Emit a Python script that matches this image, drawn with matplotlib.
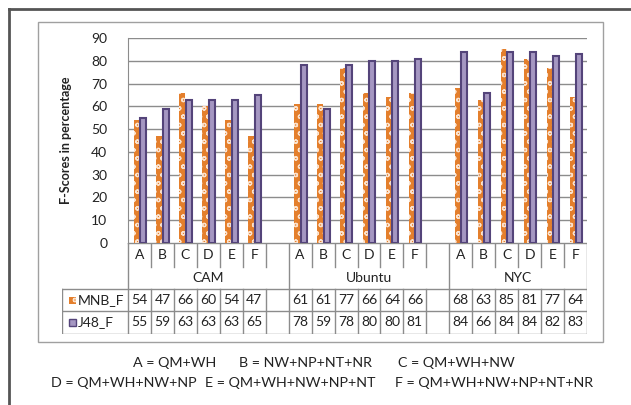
import matplotlib.pyplot as plt
from matplotlib.patches import Rectangle
from matplotlib.lines import Line2D
import numpy as np

plt.rcParams['font.family'] = ['Lato', 'DejaVu Sans']
plt.rcParams['hatch.linewidth'] = 0.9

groups = ['CAM', 'Ubuntu', 'NYC']
letters = ['A', 'B', 'C', 'D', 'E', 'F']
mnb_f = [54, 47, 66, 60, 54, 47, 61, 61, 77, 66, 64, 66, 68, 63, 85, 81, 77, 64]
j48_f = [55, 59, 63, 63, 63, 65, 78, 59, 78, 80, 80, 81, 84, 66, 84, 84, 82, 83]
legend_lines = [
    [('A = QM+WH', 133), ('B = NW+NP+NT+NR', 239), ('C = QM+WH+NW', 398)],
    [('D = QM+WH+NW+NP', 51), ('E = QM+WH+NW+NP+NT', 205), ('F = QM+WH+NW+NP+NT+NR', 395)],
]

W, H = 631, 405
ORANGE = '#E47F2C'
PURPLE = '#A597C2'
PURPLE_EDGE = '#54447A'
GRID = '#8C8C8C'
TXT = '#222222'


def fx(x):
    return x / W


def fy(y):
    return 1 - y / H


fig = plt.figure(figsize=(W / 100, H / 100), dpi=100)

# outer frame lines
fig.add_artist(Line2D([fx(9), 1], [fy(9), fy(9)], color='#555555', lw=2))
fig.add_artist(Line2D([fx(9), fx(9)], [fy(9), 0], color='#555555', lw=2))
fig.add_artist(Rectangle((fx(38), fy(342)), fx(603) - fx(38), fy(22) - fy(342),
                         fill=False, ec='#A0A0A0', lw=1))

# slot positions (7 per group, last group has no spacer slot)
slots = np.array([g * 7 + i for g in range(3) for i in range(6)])
xmin, xmax = -0.5, 19.5
PL, PR, PT, PB = 128, 587, 38, 243
slot_px = (PR - PL) / (xmax - xmin)

ax = fig.add_axes([fx(PL), fy(PB), fx(PR) - fx(PL), fy(PT) - fy(PB)])
ax.bar(slots - 0.13, mnb_f, width=0.26, color=ORANGE, edgecolor='#FBE3CF',
       hatch='oo', linewidth=0, zorder=3)
ax.bar(slots + 0.15, j48_f, width=0.26, color=PURPLE, edgecolor=PURPLE_EDGE,
       linewidth=1.5, zorder=3)
ax.set_xlim(xmin, xmax)
ax.set_ylim(0, 90)
ax.set_yticks(range(0, 91, 10))
ax.set_xticks([])
ax.yaxis.grid(True, color=GRID, lw=1)
ax.set_axisbelow(True)
ax.tick_params(axis='y', length=0, pad=15, labelsize=10, labelcolor=TXT)
for s in ['right', 'bottom', 'top']:
    ax.spines[s].set_visible(False)
ax.spines['left'].set_color(GRID)
ax.set_ylabel('F-Scores in percentage', fontweight='bold', fontsize=9,
              color=TXT, labelpad=14)

# data table below the plot
TL, TB = 62, 334
tx_left = xmin - (PL - TL) / slot_px
tax = fig.add_axes([fx(TL), fy(TB), fx(PR) - fx(TL), fy(PB) - fy(TB)])
tax.set_xlim(tx_left, xmax)
tax.set_ylim(TB, PB)
tax.axis('off')

lk = dict(color=GRID, lw=1)
row1, row2, row3 = 267, 289, 311
tax.plot([xmin, xmax], [PB, PB], **lk)
for y in [row2, row3, TB]:
    tax.plot([tx_left, xmax], [y, y], **lk)
tax.plot([tx_left, tx_left], [row2, TB], **lk)
for b in np.arange(xmin, xmax + 0.01, 1):
    if b in (-0.5, 6.5, 13.5, 19.5):
        tax.plot([b, b], [PB, TB], **lk)
    else:
        tax.plot([b, b], [PB, row1], **lk)
        tax.plot([b, b], [row2, TB], **lk)

for i, s in enumerate(slots):
    tax.text(s, 255, letters[i % 6], ha='center', va='center', fontsize=10, color=TXT)
    tax.text(s, 300, str(mnb_f[i]), ha='center', va='center', fontsize=10, color=TXT)
    tax.text(s, 322.5, str(j48_f[i]), ha='center', va='center', fontsize=10, color=TXT)
for g, name in enumerate(groups):
    end = g * 7 + 6.5 if g < 2 else xmax
    tax.text((g * 7 - 0.5 + end) / 2, 278, name, ha='center', va='center',
             fontsize=10, color=TXT)

ix = tx_left + 7 / slot_px
iw = 7 / slot_px
tax.add_patch(Rectangle((ix, 303.5), iw, -7, fc=ORANGE, ec='#FBE3CF', hatch='oo', lw=0))
tax.add_patch(Rectangle((ix, 326), iw, -7, fc=PURPLE, ec=PURPLE_EDGE, lw=1))
tax.text(ix + iw + 2 / slot_px, 300, 'MNB_F', ha='left', va='center', fontsize=10, color=TXT)
tax.text(ix + iw + 2 / slot_px, 322.5, 'J48_F', ha='left', va='center', fontsize=10, color=TXT)

# abbreviation key
for row, y in zip(legend_lines, [363, 383]):
    for label, x in row:
        fig.text(fx(x), fy(y), label, ha='left', va='center', fontsize=10.3, color=TXT)

fig.savefig('out.png', dpi=100)
